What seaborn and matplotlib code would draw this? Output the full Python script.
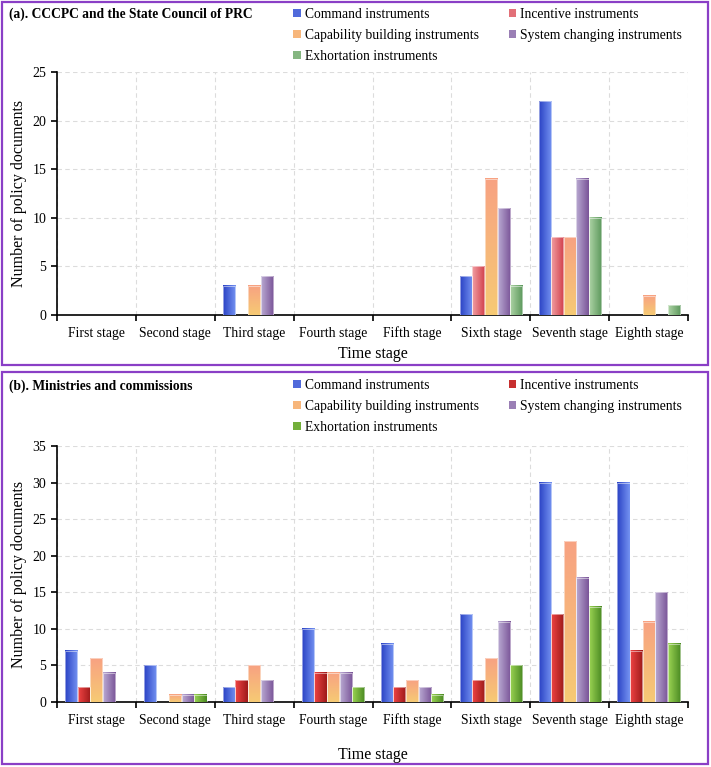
import numpy as np
import pandas as pd
import matplotlib
matplotlib.use("Agg")
import matplotlib.pyplot as plt
import matplotlib.colors as mcolors
from matplotlib.patches import Patch, Rectangle
import seaborn as sns

stages = ["First stage", "Second stage", "Third stage", "Fourth stage",
          "Fifth stage", "Sixth stage", "Seventh stage", "Eighth stage"]
instruments = ["Command instruments", "Incentive instruments",
               "Capability building instruments", "System changing instruments",
               "Exhortation instruments"]

# (a) CCCPC and the State Council of PRC
a_command = [0, 0, 3, 0, 0, 4, 22, 0]
a_incentive = [0, 0, 0, 0, 0, 5, 8, 0]
a_capability = [0, 0, 3, 0, 0, 14, 8, 2]
a_system = [0, 0, 4, 0, 0, 11, 14, 0]
a_exhortation = [0, 0, 0, 0, 0, 3, 10, 1]

# (b) Ministries and commissions
b_command = [7, 5, 2, 10, 8, 12, 30, 30]
b_incentive = [2, 0, 3, 4, 2, 3, 12, 7]
b_capability = [6, 1, 5, 4, 3, 6, 22, 11]
b_system = [4, 1, 3, 4, 2, 11, 17, 15]
b_exhortation = [0, 1, 0, 2, 1, 5, 13, 8]

# gradient (start, end, direction) per series
grad_a = {
    "Command instruments": ("#2a42c4", "#7593f2", "h"),
    "Incentive instruments": ("#f2a0a4", "#d2404c", "h"),
    "Capability building instruments": ("#f8a282", "#f6ca74", "v"),
    "System changing instruments": ("#baaad2", "#7a5498", "h"),
    "Exhortation instruments": ("#aed4a6", "#5c985c", "h"),
}
grad_b = dict(grad_a)
grad_b["Incentive instruments"] = ("#f04444", "#9e1a1a", "h")
grad_b["Exhortation instruments"] = ("#9cd454", "#4a8a22", "h")

plt.rcParams["font.family"] = ["Liberation Serif", "DejaVu Serif"]


def make_df(series):
    rows = []
    for name, vals in zip(instruments, series):
        for st, v in zip(stages, vals):
            rows.append({"stage": st, "instrument": name, "count": v})
    return pd.DataFrame(rows)


def draw_panel(fig, rect, series, grads, ymax, title, title_y, leg_y, xlabelpad):
    ax = fig.add_axes(rect)
    df = make_df(series)
    mids = {k: mcolors.to_hex((np.array(mcolors.to_rgb(c0)) + np.array(mcolors.to_rgb(c1))) / 2)
            for k, (c0, c1, _) in grads.items()}
    sns.barplot(data=df, x="stage", y="count", hue="instrument", order=stages,
                hue_order=instruments, palette=mids, width=0.8, gap=0.04,
                legend=False, ax=ax)
    # gradient fill, drawn under each bar outline
    for name, cont in zip(instruments, ax.containers):
        c0, c1, d = grads[name]
        c0 = np.array(mcolors.to_rgb(c0))
        c1 = np.array(mcolors.to_rgb(c1))
        t = np.linspace(0, 1, 64)[:, None]
        g = c0 * (1 - t) + c1 * t
        img = g[None, :, :] if d == "h" else g[:, None, :]
        for bar in cont:
            h = bar.get_height()
            bar.set_facecolor("none")
            bar.set_zorder(4)
            if h <= 0:
                bar.set_edgecolor("none")
                continue
            bar.set_edgecolor((1, 1, 1, 0.7))
            bar.set_linewidth(0.5)
            x0 = bar.get_x()
            w = bar.get_width()
            ax.imshow(img, extent=(x0, x0 + w, 0, h), aspect="auto",
                      interpolation="bilinear", origin="upper", zorder=3)
    ax.set_xlim(-0.5, 7.5)
    ax.set_ylim(0, ymax)
    ax.set_yticks(np.arange(0, ymax + 1, 5))
    ax.set_xticks(range(8))
    ax.set_xticklabels(stages, fontsize=9.8, va="baseline")
    ax.set_xticks(np.arange(-0.5, 8, 1), minor=True)
    ax.tick_params(axis="x", which="major", length=0, pad=16)
    ax.tick_params(axis="x", which="minor", length=4, width=1.2, direction="out")
    ax.tick_params(axis="y", labelsize=10, length=4, width=1.2)
    ax.grid(True, axis="y", which="major", ls=(0, (4, 3)), color="#dcdcdc", lw=0.8)
    ax.grid(True, axis="x", which="minor", ls=(0, (4, 3)), color="#dcdcdc", lw=0.8)
    ax.grid(False, axis="x", which="major")
    ax.set_axisbelow(True)
    for s in ["top", "right"]:
        ax.spines[s].set_visible(False)
    ax.spines["left"].set_linewidth(1.2)
    ax.spines["bottom"].set_linewidth(1.2)
    ax.set_ylabel("Number of policy documents", fontsize=11.5)
    ax.set_xlabel("Time stage", fontsize=11.5, labelpad=xlabelpad)

    # row-major legend order in 2 columns
    order = [0, 2, 4, 1, 3]
    handles = [Patch(facecolor=mids[instruments[i]], edgecolor="none") for i in order]
    labels = [instruments[i] for i in order]
    fig.legend(handles, labels, loc="upper left", bbox_to_anchor=(0.405, leg_y),
               ncol=2, frameon=False, fontsize=9.8, handlelength=0.55,
               handleheight=0.55, handletextpad=0.3, columnspacing=2.2,
               labelspacing=0.58, borderaxespad=0)
    fig.text(0.012, title_y, title, fontsize=9.75, fontweight="bold", va="top")
    return ax


fig = plt.figure(figsize=(7.11, 7.67), dpi=100)

draw_panel(fig, [0.080, 0.5893, 0.888, 0.3168],
           [a_command, a_incentive, a_capability, a_system, a_exhortation],
           grad_a, 25, "(a). CCCPC and the State Council of PRC", 0.990, 0.997, 4)
draw_panel(fig, [0.080, 0.0847, 0.888, 0.3338],
           [b_command, b_incentive, b_capability, b_system, b_exhortation],
           grad_b, 35, "(b). Ministries and commissions", 0.505, 0.513, 14)

for y0, y1 in [(2, 365), (372, 764)]:
    fig.add_artist(Rectangle((2 / 711, 1 - y1 / 767), 706 / 711, (y1 - y0) / 767,
                             transform=fig.transFigure, fill=False,
                             edgecolor="#8a3fc6", linewidth=1.6))

fig.savefig("out.png", dpi=100)
